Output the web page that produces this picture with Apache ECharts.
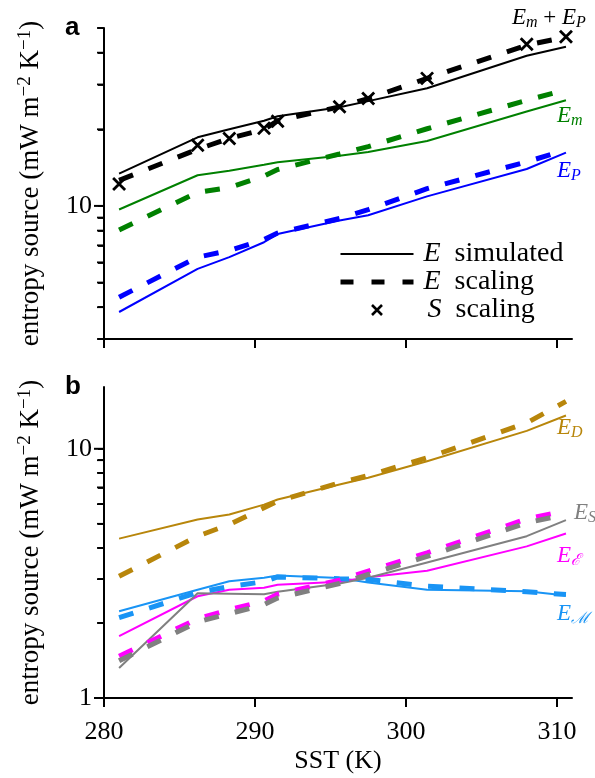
<!DOCTYPE html>
<html>
<head>
<meta charset="utf-8">
<script src="https://cdn.jsdelivr.net/npm/echarts@6/dist/echarts.min.js"></script>
<style>
  html, body { margin: 0; padding: 0; background: #fff; }
  #chart { width: 595px; height: 778px; }
</style>
</head>
<body>
<div id="chart"></div>
<script>
// Sea surface temperature of each simulation (K)
const sst = [281.0, 286.2, 288.3, 290.6, 291.5, 295.6, 297.5, 301.4, 308.0, 310.6];

// Panel a: entropy sources (mW m^-2 K^-1)
const totalSimulated = [13.4, 18.6, 20.0, 21.6, 22.5, 24.4, 25.8, 29.0, 38.9, 42.2];
const totalScaling = [12.6, 16.7, 18.4, 20.0, 21.6, 24.5, 26.4, 31.7, 42.8, 46.1];
const totalEntropyScaling = [12.2, 17.3, 18.4, 20.2, 21.5, 24.5, 26.4, 31.7, 43.2, 46.2];
const emSimulated = [9.68, 13.2, 13.75, 14.5, 14.85, 15.75, 16.3, 18.0, 23.5, 26.0];
const emScaling = [8.05, 11.3, 11.8, 13.1, 13.9, 16.0, 17.1, 20.1, 26.0, 28.6];
const epSimulated = [3.83, 5.66, 6.29, 7.2, 7.75, 8.76, 9.19, 10.9, 13.97, 16.2];
const epScaling = [4.38, 6.29, 6.68, 7.38, 7.82, 8.92, 9.67, 11.69, 14.9, 16.6];

// Panel b: components of the entropy budget
const edSimulated = [4.36, 5.20, 5.45, 5.97, 6.26, 7.19, 7.65, 8.92, 11.8, 13.6];
const edScaling = [3.08, 4.46, 4.97, 5.80, 6.16, 7.30, 7.81, 9.20, 12.7, 15.5];
const emixSimulated = [2.23, 2.72, 2.94, 3.04, 3.10, 3.03, 2.91, 2.72, 2.68, 2.58];
const emixScaling = [2.10, 2.65, 2.80, 2.93, 3.06, 3.01, 2.99, 2.81, 2.67, 2.60];
const edissSimulated = [1.77, 2.56, 2.72, 2.77, 2.85, 2.93, 3.05, 3.24, 4.06, 4.57];
const edissScaling = [1.47, 2.08, 2.26, 2.45, 2.61, 2.97, 3.23, 3.82, 5.23, 5.65];
const esSimulated = [1.32, 2.63, 2.62, 2.61, 2.67, 2.88, 3.04, 3.50, 4.46, 5.17];
const esScaling = [1.41, 2.02, 2.18, 2.37, 2.52, 2.88, 3.13, 3.70, 5.05, 5.45];

// Axis ticks
const sstTicks = [280, 290, 300, 310];
const aMajorTicks = [10];
const aMinorTicks = [3, 4, 5, 6, 7, 8, 9, 20, 30, 40, 50];
const bMajorTicks = [1, 10];
const bMinorTicks = [2, 3, 4, 5, 6, 7, 8, 9];

const SERIF = '"Liberation Serif", "Times New Roman", serif';
const SANS = '"Liberation Sans", Arial, sans-serif';
const COLORS = {
  black: '#000000', green: '#008000', blue: '#0000ff',
  gold: '#b8860b', sky: '#1994f5', magenta: '#ff00ff', gray: '#808080'
};
const DASH = [15, 16.5];
const X_MIN = 280, X_MAX = 311;

function pairs(ys) { return sst.map((x, i) => [x, ys[i]]); }

function solid(name, ys, color, grid) {
  return {
    name, type: 'line', xAxisIndex: grid, yAxisIndex: grid,
    data: pairs(ys), symbol: 'none', showSymbol: false, animation: false,
    lineStyle: { color, width: 2, join: 'round' }, itemStyle: { color },
    silent: true
  };
}
function dashed(name, ys, color, grid) {
  return {
    name, type: 'line', xAxisIndex: grid, yAxisIndex: grid,
    data: pairs(ys), symbol: 'none', showSymbol: false, animation: false,
    lineStyle: { color, width: 5, type: DASH, cap: 'butt' }, itemStyle: { color },
    silent: true
  };
}
// short outward marks on the left spine at the decade subdivisions
function minorTicks(name, values, grid) {
  return {
    name, type: 'scatter', xAxisIndex: grid, yAxisIndex: grid,
    data: values.map(v => [X_MIN, v]), silent: true, animation: false, clip: false,
    symbol: 'rect', symbolSize: [6, 1.8], symbolOffset: [-4, 0],
    itemStyle: { color: '#000', opacity: 1 }, z: 10
  };
}

const tickLine = { color: '#000', width: 2 };
const labelFont = { fontFamily: SERIF, fontSize: 26, color: '#000' };

function xAxis(grid, withLabels) {
  const ax = {
    gridIndex: grid, type: 'value', min: X_MIN, max: X_MAX, position: 'bottom',
    axisLine: { show: true, onZero: false, lineStyle: { color: '#000', width: 2 } },
    axisTick: { show: true, customValues: sstTicks, length: 9, lineStyle: tickLine },
    axisLabel: withLabels
      ? Object.assign({ show: true, customValues: sstTicks, margin: 21 }, labelFont)
      : { show: false },
    splitLine: { show: false }
  };
  if (withLabels) {
    ax.name = 'SST (K)';
    ax.nameLocation = 'middle';
    ax.nameGap = 50;
    ax.nameTextStyle = Object.assign({}, labelFont);
  }
  return ax;
}

const yName = '{t|entropy source (mW m}{sup|−2}{t| K}{sup|−1}{t|)}';
const yNameStyle = {
  fontFamily: SERIF, fontSize: 27, color: '#000',
  rich: {
    t: { fontFamily: SERIF, fontSize: 27, lineHeight: 30, color: '#000' },
    sup: { fontFamily: SERIF, fontSize: 19, lineHeight: 30, verticalAlign: 'top', color: '#000' }
  }
};

function yAxis(grid, min, max, major, minor) {
  return {
    gridIndex: grid, type: 'log', logBase: 10, min, max, position: 'left',
    axisLine: { show: true, onZero: false, lineStyle: { color: '#000', width: 2 } },
    axisTick: { show: true, customValues: major.concat(minor), length: 6, lineStyle: { color: '#000', width: 1.8 } },
    axisLabel: Object.assign({ show: true, customValues: major, margin: 12 }, labelFont),
    splitLine: { show: false }, minorTick: { show: false },
    name: yName, nameLocation: 'middle', nameGap: 58, nameTextStyle: yNameStyle
  };
}

const crossPath = 'path://M0,0L10,10M10,0L0,10';

// Annotation label text built from rich fragments
function subLabel(sub, color) {
  return {
    text: '{e|E}{s|' + sub + '}',
    rich: {
      e: { fontFamily: SERIF, fontStyle: 'italic', fontSize: 23, lineHeight: 26, fill: color },
      s: { fontFamily: SERIF, fontStyle: 'italic', fontSize: 16, lineHeight: 15, verticalAlign: 'bottom', fill: color }
    }
  };
}
function textGraphic(x, y, label) {
  return { type: 'text', x, y, silent: true, style: Object.assign({ align: 'left', verticalAlign: 'top' }, label) };
}

const graphics = [
  { type: 'text', x: 65, y: 15, silent: true, style: { text: 'a', fontFamily: SANS, fontWeight: 'bold', fontSize: 26, fill: '#000' } },
  { type: 'text', x: 65, y: 374, silent: true, style: { text: 'b', fontFamily: SANS, fontWeight: 'bold', fontSize: 26, fill: '#000' } },
  textGraphic(512, 5, {
    text: '{e|E}{s|m}{o| + }{e|E}{s|P}',
    rich: {
      e: { fontFamily: SERIF, fontStyle: 'italic', fontSize: 23, lineHeight: 26, fill: '#000' },
      s: { fontFamily: SERIF, fontStyle: 'italic', fontSize: 16, lineHeight: 15, verticalAlign: 'bottom', fill: '#000' },
      o: { fontFamily: SERIF, fontSize: 23, lineHeight: 26, fill: '#000' }
    }
  }),
  textGraphic(557, 103, subLabel('m', COLORS.green)),
  textGraphic(557, 158, subLabel('P', COLORS.blue)),
  textGraphic(557, 415, subLabel('D', COLORS.gold)),
  textGraphic(574, 500, subLabel('S', COLORS.gray)),
  textGraphic(557, 543, subLabel('ℰ', COLORS.magenta)),
  textGraphic(557, 601, subLabel('ℳ', COLORS.sky))
];

const option = {
  backgroundColor: '#fff',
  animation: false,
  grid: [
    { left: 104, top: 28, width: 468, height: 311 },
    { left: 104, top: 387, width: 468, height: 311 }
  ],
  xAxis: [xAxis(0, false), xAxis(1, true)],
  yAxis: [yAxis(0, 3, 50, aMajorTicks, aMinorTicks), yAxis(1, 1, 17.7, bMajorTicks, bMinorTicks)],
  legend: {
    orient: 'vertical', left: 338, top: 240, padding: 0,
    itemWidth: 73, itemHeight: 10, itemGap: 0,
    selectedMode: false,
    symbolKeepAspect: true,
    data: [
      { name: 'E simulated', itemStyle: { opacity: 0 }, lineStyle: { width: 2, type: 'solid', color: '#000' } },
      { name: 'E scaling', itemStyle: { opacity: 0 }, lineStyle: { width: 5, type: [13, 18], color: '#000' } },
      { name: 'S scaling', itemStyle: { color: '#000', borderColor: '#000', borderWidth: 2.6, opacity: 1 } }
    ],
    formatter: function (name) {
      const parts = name.split(' ');
      return (parts[0] === 'S' ? '{gapS|}' : '{gap|}') + '{i|' + parts[0] + '}{t|  ' + parts[1] + '}';
    },
    textStyle: {
      fontFamily: SERIF, fontSize: 28, color: '#000', lineHeight: 26.5,
      rich: {
        i: { fontFamily: SERIF, fontStyle: 'italic', fontSize: 28, lineHeight: 26.5 },
        t: { fontFamily: SERIF, fontSize: 28, lineHeight: 26.5 },
        gap: { width: 5 },
        gapS: { width: 9 }
      }
    }
  },
  graphic: graphics,
  series: [
    minorTicks('ticks a', aMinorTicks, 0),
    minorTicks('ticks b', bMinorTicks, 1),
    // panel a
    solid('E simulated', totalSimulated, COLORS.black, 0),
    solid('Em simulated', emSimulated, COLORS.green, 0),
    solid('EP simulated', epSimulated, COLORS.blue, 0),
    dashed('E scaling', totalScaling, COLORS.black, 0),
    dashed('Em scaling', emScaling, COLORS.green, 0),
    dashed('EP scaling', epScaling, COLORS.blue, 0),
    {
      name: 'S scaling', type: 'scatter', xAxisIndex: 0, yAxisIndex: 0,
      data: pairs(totalEntropyScaling), symbol: crossPath, symbolSize: 12,
      symbolKeepAspect: true, animation: false, silent: true,
      itemStyle: { color: '#000', borderColor: '#000', borderWidth: 2.8, opacity: 1 }
    },
    // panel b
    solid('ED simulated', edSimulated, COLORS.gold, 1),
    solid('EM simulated', emixSimulated, COLORS.sky, 1),
    solid('Eeps simulated', edissSimulated, COLORS.magenta, 1),
    solid('ES simulated', esSimulated, COLORS.gray, 1),
    dashed('ED scaling', edScaling, COLORS.gold, 1),
    dashed('EM scaling', emixScaling, COLORS.sky, 1),
    dashed('Eeps scaling', edissScaling, COLORS.magenta, 1),
    dashed('ES scaling', esScaling, COLORS.gray, 1)
  ]
};

const chart = echarts.init(document.getElementById('chart'), null, { renderer: 'canvas' });
chart.setOption(option);

// Decade ticks are longer than the subdivision ticks
function majorTickGraphics(values, axisIndex) {
  const x0 = chart.convertToPixel({ xAxisIndex: axisIndex }, X_MIN);
  return values.map(function (v) {
    const y = chart.convertToPixel({ yAxisIndex: axisIndex }, v);
    return {
      type: 'line', silent: true, z: 10,
      shape: { x1: x0 - 10, y1: y, x2: x0, y2: y },
      style: { stroke: '#000', lineWidth: 2 }
    };
  });
}
chart.setOption({
  graphic: graphics.concat(majorTickGraphics(aMajorTicks, 0), majorTickGraphics(bMajorTicks, 1))
});
</script>
</body>
</html>
